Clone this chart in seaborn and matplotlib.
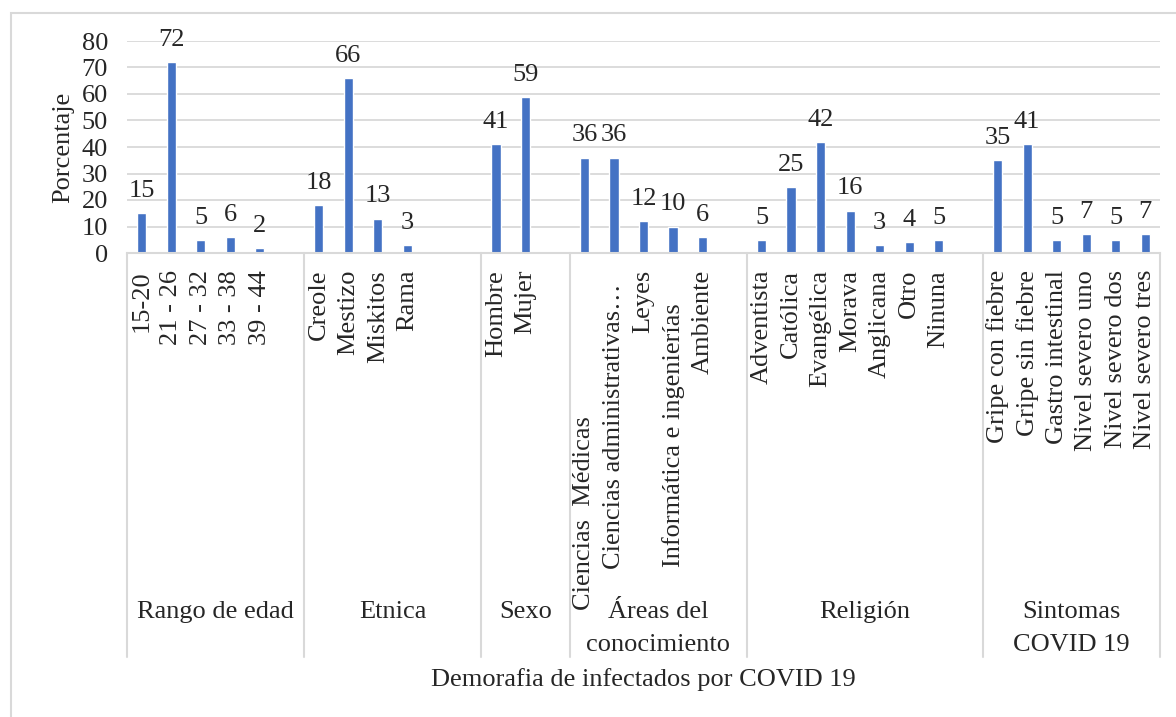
import matplotlib
matplotlib.use("Agg")
import matplotlib.pyplot as plt
import pandas as pd
import seaborn as sns
from matplotlib.lines import Line2D
from matplotlib.patches import Rectangle
from matplotlib.transforms import blended_transform_factory

# ---- data -------------------------------------------------------------
group_names = ["Rango de edad", "Etnica", "Sexo",
               "Áreas del\nconocimiento", "Religión", "Sintomas\nCOVID 19"]

edad_labels = ["15-20", "21 - 26", "27 - 32", "33 - 38", "39 - 44"]
edad_values = [15, 72, 5, 6, 2]

etnica_labels = ["Creole", "Mestizo", "Miskitos", "Rama"]
etnica_values = [18, 66, 13, 3]

sexo_labels = ["Hombre", "Mujer"]
sexo_values = [41, 59]

areas_labels = ["Ciencias  Médicas" + " " * 22,
                "Ciencias administrativas…  ",
                "Leyes",
                "Informática e ingenierías     ",
                "Ambiente"]
areas_values = [36, 36, 12, 10, 6]

religion_labels = ["Adventista", "Católica", "Evangélica", "Morava",
                   "Anglicana", "Otro", "Ninuna"]
religion_values = [5, 25, 42, 16, 3, 4, 5]

sintomas_labels = ["Gripe con fiebre", "Gripe sin fiebre", "Gastro intestinal",
                   "Nivel severo uno", "Nivel severo dos", "Nivel severo tres"]
sintomas_values = [35, 41, 5, 7, 5, 7]

# empty category rows that follow each group on the axis
blank_rows = [1, 2, 1, 1, 1, 0]

y_ticks = [0, 10, 20, 30, 40, 50, 60, 70, 80]

x_title = "Demorafia de infectados por COVID 19"
y_title = "Porcentaje"

# ---- assemble the category axis ---------------------------------------
group_labels = [edad_labels, etnica_labels, sexo_labels,
                areas_labels, religion_labels, sintomas_labels]
group_values = [edad_values, etnica_values, sexo_values,
                areas_values, religion_values, sintomas_values]

records, order, tick_text, spans = [], [], [], []
for g, (name, labs, vals, nblank) in enumerate(
        zip(group_names, group_labels, group_values, blank_rows)):
    start = len(order)
    for lab, val in zip(labs, vals):
        order.append(lab)
        tick_text.append(lab)
        records.append({"categoria": lab, "porcentaje": val, "grupo": name})
    for k in range(nblank):
        order.append(f"_blank_{g}_{k}")
        tick_text.append("")
    spans.append((start, len(order)))

df = pd.DataFrame(records)

# ---- style --------------------------------------------------------------
sns.set_style("white")
plt.rcParams["font.family"] = ["Liberation Serif", "DejaVu Serif"]
FS = 19
GRID = "#d9d9d9"
BAR = "#4472C4"

W, H = 1176, 717
fig = plt.figure(figsize=(W / 100, H / 100), dpi=100)
ax = fig.add_axes([127 / W, 1 - 253 / H, (1160 - 127) / W, 212 / H])

sns.barplot(data=df, x="categoria", y="porcentaje", order=order,
            color=BAR, saturation=1, width=0.31, errorbar=None, ax=ax)

ax.set_xlim(-0.5, len(order) - 0.5)
ax.set_ylim(0, 80)
ax.set_yticks(y_ticks)
ax.yaxis.grid(True, color=GRID, lw=1.3)
ax.set_axisbelow(True)

for side in ("top", "right", "left"):
    ax.spines[side].set_visible(False)
ax.spines["bottom"].set_color(GRID)
ax.spines["bottom"].set_linewidth(1.5)

ax.set_xticks(range(len(order)), labels=tick_text, rotation=90)
ax.tick_params(axis="x", length=0, pad=12.2, labelsize=FS)
ax.tick_params(axis="y", length=0, pad=13.7, labelsize=FS)

ax.set_xlabel("")
ax.set_ylabel(y_title, fontsize=FS)
ax.yaxis.set_label_coords(-0.051, 0.5)

# value labels above the bars
for cont in ax.containers:
    ax.bar_label(cont, fmt="%g", padding=8, fontsize=FS)

# group separators and group names under the tick labels
trans = blended_transform_factory(ax.transData, ax.transAxes)
sep_bottom = -(657 - 253) / 212
name_top = -(601 - 253) / 212
bounds = [s for s, _ in spans] + [spans[-1][1]]
for b in bounds:
    ax.add_line(Line2D([b - 0.5, b - 0.5], [0, sep_bottom], transform=trans,
                       color=GRID, lw=1.5, clip_on=False))
for name, (s, e) in zip(group_names, spans):
    ax.text((s + e - 1) / 2, name_top, name, transform=trans, ha="center",
            va="top", fontsize=FS, linespacing=1.65, multialignment="center")

fig.text((127 + 1160) / 2 / W, 1 - 680 / H, x_title, ha="center",
         va="center", fontsize=FS)

# chart-area border
fig.add_artist(Rectangle((11 / W, -0.5), 2, (1 - 13 / H) + 0.5,
                         transform=fig.transFigure, fill=False,
                         edgecolor=GRID, lw=1.5))

fig.savefig("out.png", dpi=100)
